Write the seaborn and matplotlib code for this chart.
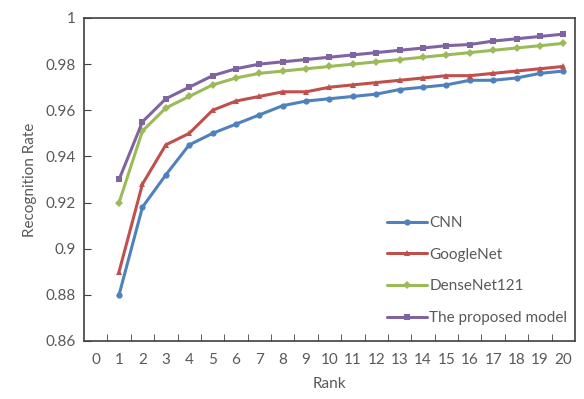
import pandas as pd
import seaborn as sns
import matplotlib.pyplot as plt
from matplotlib.ticker import FuncFormatter, FixedLocator

# Rank values 1-20 and recognition rate per model
ranks = list(range(1, 21))
cnn = [0.880, 0.918, 0.932, 0.945, 0.950, 0.954, 0.958, 0.962, 0.964, 0.965,
       0.966, 0.967, 0.969, 0.970, 0.971, 0.973, 0.973, 0.974, 0.976, 0.977]
googlenet = [0.890, 0.928, 0.945, 0.950, 0.960, 0.964, 0.966, 0.968, 0.968, 0.970,
             0.971, 0.972, 0.973, 0.974, 0.975, 0.975, 0.976, 0.977, 0.978, 0.979]
densenet = [0.920, 0.951, 0.961, 0.966, 0.971, 0.974, 0.976, 0.977, 0.978, 0.979,
            0.980, 0.981, 0.982, 0.983, 0.984, 0.985, 0.986, 0.987, 0.988, 0.989]
proposed = [0.930, 0.955, 0.965, 0.970, 0.975, 0.978, 0.980, 0.981, 0.982, 0.983,
            0.984, 0.985, 0.986, 0.987, 0.988, 0.9885, 0.990, 0.991, 0.992, 0.993]
models = ['CNN', 'GoogleNet', 'DenseNet121', 'The proposed model']

# Long format table for seaborn
df = pd.DataFrame({
    'Rank': ranks * 4,
    'Rate': cnn + googlenet + densenet + proposed,
    'Model': [m for m in models for _ in ranks],
})

colors = {'CNN': '#4F81BD', 'GoogleNet': '#C0504D',
          'DenseNet121': '#9BBB59', 'The proposed model': '#8064A2'}
markers = {'CNN': 'o', 'GoogleNet': '^', 'DenseNet121': 'D', 'The proposed model': 's'}

sns.set_style('white')
plt.rcParams['font.family'] = ['Lato', 'DejaVu Sans']
text_grey = '#595959'
fs = 11

fig = plt.figure(figsize=(5.84, 3.99), dpi=100)
ax = fig.add_axes([0.1438, 0.1454, 0.8408, 0.8095])

sns.lineplot(data=df, x='Rank', y='Rate', hue='Model', style='Model',
             palette=colors, markers=markers, dashes=False, linewidth=2.2,
             markersize=4.5, markeredgewidth=0, ax=ax)

ax.set_xlim(-0.5, 20.5)
ax.set_ylim(0.86, 1.0)

# x labels at the categories, tick marks between them (Excel style)
ax.xaxis.set_major_locator(FixedLocator(list(range(0, 21))))
ax.xaxis.set_minor_locator(FixedLocator([i + 0.5 for i in range(0, 20)]))
ax.tick_params(axis='x', which='major', length=0, pad=9, labelsize=fs, labelcolor=text_grey)
ax.tick_params(axis='x', which='minor', length=5, direction='in', color='#404040', bottom=True)
ax.set_yticks([0.86, 0.88, 0.90, 0.92, 0.94, 0.96, 0.98, 1.0])
ax.yaxis.set_major_formatter(FuncFormatter(lambda v, p: '{:g}'.format(round(v, 2))))
ax.tick_params(axis='y', length=5, direction='in', color='#404040', left=True,
               labelsize=fs, labelcolor=text_grey, pad=6)

for s in ax.spines.values():
    s.set_color('#404040')
    s.set_linewidth(1.2)

ax.set_xlabel('Rank', fontsize=fs, color=text_grey, labelpad=7)
ax.set_ylabel('Recognition Rate', fontsize=fs, color=text_grey, labelpad=6)

ax.legend(loc='lower right', bbox_to_anchor=(1.012, 0.007), frameon=False,
          fontsize=fs, labelspacing=1.15, handlelength=2.6, handletextpad=0.15,
          labelcolor=text_grey)

plt.savefig('out.png', dpi=100)
